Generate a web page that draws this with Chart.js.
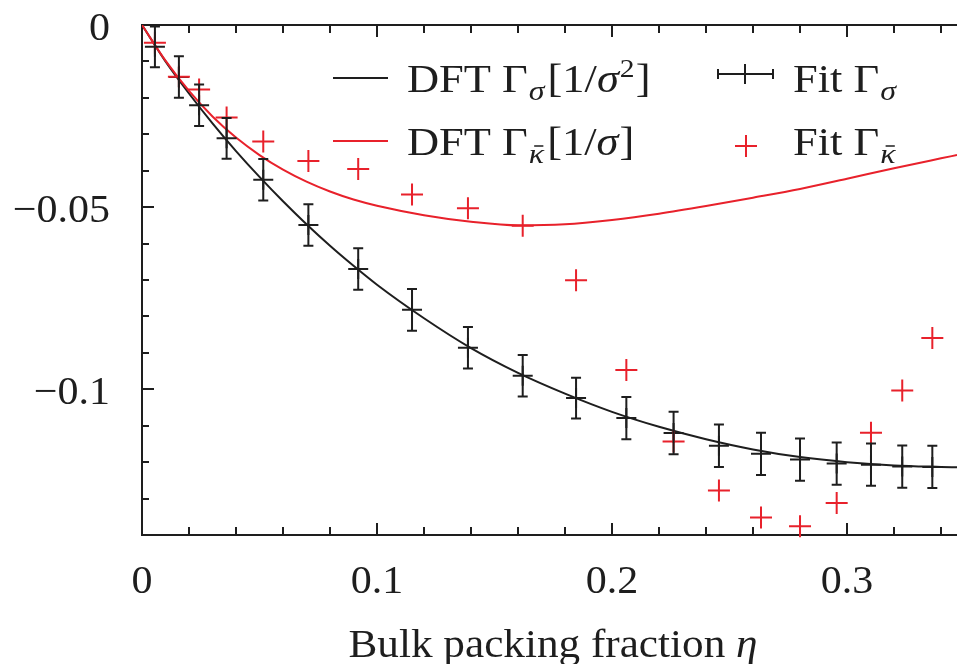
<!DOCTYPE html>
<html>
<head>
<meta charset="utf-8">
<script src="https://cdn.jsdelivr.net/npm/chart.js@4.4.1/dist/chart.umd.min.js"></script>
<style>
  html, body { margin: 0; padding: 0; background: #fff; }
  canvas { display: block; }
</style>
</head>
<body>
<canvas id="gammaChart" width="957" height="664"></canvas>
<script>
// DFT curves, sampled along the packing fraction
const dftEta = [0, 0.01, 0.02, 0.03, 0.04, 0.05, 0.06, 0.07, 0.08, 0.09, 0.10, 0.12, 0.14, 0.16,
    0.18, 0.20, 0.22, 0.24, 0.26, 0.28, 0.30, 0.32, 0.34, 0.3468];
const dftSigma = [0, -0.0100, -0.0188, -0.0270, -0.0346, -0.0417, -0.0484, -0.0547, -0.0606, -0.0661,
    -0.0713, -0.0805, -0.0887, -0.0955, -0.1012, -0.1062, -0.1103, -0.1137, -0.1165, -0.1186,
    -0.1200, -0.1209, -0.1213, -0.1214];
const dftKappa = [0, -0.0098, -0.0181, -0.0251, -0.0309, -0.0357, -0.0397, -0.0430, -0.0457, -0.0479,
    -0.0496, -0.0522, -0.0540, -0.0550, -0.0547, -0.0535, -0.0518, -0.0497, -0.0474, -0.0450,
    -0.0422, -0.0393, -0.0366, -0.0357];

// fitted values from the simulations
const fitEta = [0.0055, 0.0157, 0.0243, 0.0360, 0.0516, 0.0708, 0.0920, 0.1149, 0.1387, 0.1620,
    0.1847, 0.2061, 0.2262, 0.2455, 0.2634, 0.2800, 0.2956, 0.3102, 0.3235, 0.3363];
const fitSigma = [-0.0060, -0.0143, -0.0220, -0.0311, -0.0425, -0.0549, -0.0670, -0.0782, -0.0886, -0.0963,
    -0.1024, -0.1079, -0.1120, -0.1155, -0.1177, -0.1193, -0.1204, -0.1207, -0.1212, -0.1213];
const fitSigmaErr = [0.0056, 0.0057, 0.0057, 0.0056, 0.0057, 0.0057, 0.0057, 0.0057, 0.0057, 0.0057,
    0.0056, 0.0058, 0.0058, 0.0058, 0.0058, 0.0058, 0.0058, 0.0058, 0.0058, 0.0058];
const fitKappa = [-0.0049, -0.0142, -0.0177, -0.0254, -0.0320, -0.0373, -0.0395, -0.0465, -0.0503, -0.0551,
    -0.0701, -0.0947, -0.1143, -0.1278, -0.1352, -0.1376, -0.1312, -0.1119, -0.1003, -0.0859];

// axis ticks
const xTickVals = [0, 0.1, 0.2, 0.3];
const xTickText = ['0', '0.1', '0.2', '0.3'];
const yTickVals = [0, -0.05, -0.1];
const yTickText = ['0', '\u22120.05', '\u22120.1'];

const INK = '#1e1e1e';
const RED = '#e8212b';
const SERIF = '"Liberation Serif", "Times New Roman", serif';

function toPoints(xs, ys) {
    return xs.map((x, i) => ({ x: x, y: ys[i] }));
}

// text pieces with their own font / offset, stretched a bit horizontally
function runsWidth(ctx, runs, sx) {
    let w = 0;
    runs.forEach(r => { ctx.font = r.font; w += ctx.measureText(r.text).width * sx + (r.kern || 0); });
    return w;
}

function drawRuns(ctx, x, y, runs, sx) {
    sx = sx || 1;
    runs.forEach(r => {
        ctx.font = r.font;
        const w = ctx.measureText(r.text).width;
        const yy = y + (r.dy || 0);
        ctx.save();
        ctx.translate(x, yy);
        ctx.scale(sx, 1);
        ctx.fillText(r.text, 0, 0);
        ctx.restore();
        if (r.bar) {
            // bar over the kappa
            ctx.save();
            ctx.strokeStyle = ctx.fillStyle;
            ctx.lineWidth = 1.5;
            ctx.beginPath();
            ctx.moveTo(x + w * sx * 0.35, yy - 17);
            ctx.lineTo(x + w * sx * 0.95, yy - 17);
            ctx.stroke();
            ctx.restore();
        }
        x += w * sx + (r.kern || 0);
    });
    return x;
}

const f = {
    main: '39px ' + SERIF,
    ital: 'italic 39px ' + SERIF,
    sub: 'italic 28px ' + SERIF,
    sup: '26px ' + SERIF,
};
const LEG_SX = 1.14;

const framePlugin = {
    id: 'frame',
    beforeDatasetsDraw(chart) {
        const ctx = chart.ctx;
        const { left, right, top, bottom } = chart.chartArea;
        const xs = chart.scales.x, ys = chart.scales.y;
        ctx.save();
        ctx.strokeStyle = INK;
        ctx.lineWidth = 2;
        ctx.beginPath();
        ctx.moveTo(right + 2, top); ctx.lineTo(left, top);
        ctx.lineTo(left, bottom); ctx.lineTo(right + 2, bottom);
        ctx.stroke();

        // inward ticks, minor every 0.02 / 0.01
        ctx.beginPath();
        for (let k = 1; k <= 17; k++) {
            const px = Math.round(xs.getPixelForValue(k * 0.02));
            const len = k % 5 === 0 ? 12 : 8;
            ctx.moveTo(px, bottom); ctx.lineTo(px, bottom - len);
            ctx.moveTo(px, top); ctx.lineTo(px, top + len);
        }
        for (let k = 1; k < 14; k++) {
            const py = Math.round(ys.getPixelForValue(-k * 0.01));
            const len = k % 5 === 0 ? 12 : 7;
            ctx.moveTo(left, py); ctx.lineTo(left + len, py);
        }
        ctx.stroke();

        // tick labels and axis title
        ctx.fillStyle = INK;
        ctx.textBaseline = 'alphabetic';
        ctx.textAlign = 'left';
        const tickFont = '40px ' + SERIF;
        yTickVals.forEach((v, i) => {
            const run = [{ text: yTickText[i], font: tickFont }];
            drawRuns(ctx, 110 - runsWidth(ctx, run, 1.05), ys.getPixelForValue(v) + 15, run, 1.05);
        });
        xTickVals.forEach((v, i) => {
            const run = [{ text: xTickText[i], font: tickFont }];
            drawRuns(ctx, xs.getPixelForValue(v) - runsWidth(ctx, run, 1.05) / 2, 593, run, 1.05);
        });
        const title = [
            { text: 'Bulk packing fraction ', font: '40px ' + SERIF },
            { text: '\u03b7', font: 'italic 40px ' + SERIF },
        ];
        drawRuns(ctx, 553 - runsWidth(ctx, title, 1.08) / 2, 657, title, 1.08);
        ctx.restore();
    },
    afterDatasetsDraw(chart) {
        // error bars for the surface tension fit
        const ctx = chart.ctx;
        const xs = chart.scales.x, ys = chart.scales.y;
        ctx.save();
        ctx.strokeStyle = INK;
        ctx.lineWidth = 2;
        ctx.beginPath();
        fitEta.forEach((eta, i) => {
            const px = xs.getPixelForValue(eta);
            const y1 = ys.getPixelForValue(fitSigma[i] + fitSigmaErr[i]);
            const y2 = ys.getPixelForValue(fitSigma[i] - fitSigmaErr[i]);
            ctx.moveTo(px, y1); ctx.lineTo(px, y2);
            ctx.moveTo(px - 5, y1); ctx.lineTo(px + 5, y1);
            ctx.moveTo(px - 5, y2); ctx.lineTo(px + 5, y2);
        });
        ctx.stroke();
        ctx.restore();
    },
    afterDraw(chart) {
        // key in gnuplot style
        const ctx = chart.ctx;
        ctx.save();
        ctx.lineWidth = 2;
        ctx.strokeStyle = INK;
        ctx.beginPath(); ctx.moveTo(333, 78); ctx.lineTo(388, 78); ctx.stroke();
        ctx.strokeStyle = RED;
        ctx.beginPath(); ctx.moveTo(333, 141); ctx.lineTo(388, 141); ctx.stroke();

        ctx.strokeStyle = INK;
        ctx.beginPath();
        ctx.moveTo(718, 74); ctx.lineTo(773, 74);
        ctx.moveTo(718, 69); ctx.lineTo(718, 79);
        ctx.moveTo(773, 69); ctx.lineTo(773, 79);
        ctx.moveTo(745, 64); ctx.lineTo(745, 84);
        ctx.stroke();
        ctx.strokeStyle = RED;
        ctx.beginPath();
        ctx.moveTo(735, 146); ctx.lineTo(757, 146);
        ctx.moveTo(746, 135); ctx.lineTo(746, 157);
        ctx.stroke();

        ctx.fillStyle = INK;
        ctx.textAlign = 'left';
        ctx.textBaseline = 'alphabetic';
        drawRuns(ctx, 407, 92, [
            { text: 'DFT \u0393', font: f.main, kern: 1 },
            { text: '\u03c3', font: f.sub, dy: 8, kern: 3 },
            { text: '[1/', font: f.main },
            { text: '\u03c3', font: f.ital, kern: 1 },
            { text: '2', font: f.sup, dy: -15, kern: 1 },
            { text: ']', font: f.main },
        ], LEG_SX);
        drawRuns(ctx, 407, 155, [
            { text: 'DFT \u0393', font: f.main, kern: 1 },
            { text: '\u03ba', font: f.sub, dy: 8, kern: 3, bar: true },
            { text: '[1/', font: f.main },
            { text: '\u03c3', font: f.ital, kern: 1 },
            { text: ']', font: f.main },
        ], LEG_SX);
        drawRuns(ctx, 793, 92, [
            { text: 'Fit \u0393', font: f.main, kern: 1 },
            { text: '\u03c3', font: f.sub, dy: 8 },
        ], LEG_SX);
        drawRuns(ctx, 793, 155, [
            { text: 'Fit \u0393', font: f.main, kern: 1 },
            { text: '\u03ba', font: f.sub, dy: 8, bar: true },
        ], LEG_SX);
        ctx.restore();
    }
};

new Chart(document.getElementById('gammaChart').getContext('2d'), {
    type: 'scatter',
    data: {
        datasets: [
            {
                label: 'Fit Gamma kappa',
                data: toPoints(fitEta, fitKappa),
                pointStyle: 'cross',
                pointRadius: 11,
                borderColor: RED,
                borderWidth: 2,
                clip: false,
            },
            {
                label: 'Fit Gamma sigma',
                data: toPoints(fitEta, fitSigma),
                pointStyle: 'cross',
                pointRadius: 10,
                borderColor: INK,
                borderWidth: 2,
                clip: false,
            },
            {
                label: 'DFT Gamma kappa',
                data: toPoints(dftEta, dftKappa),
                showLine: true,
                pointRadius: 0,
                borderColor: RED,
                borderWidth: 2,
                cubicInterpolationMode: 'monotone',
            },
            {
                label: 'DFT Gamma sigma',
                data: toPoints(dftEta, dftSigma),
                showLine: true,
                pointRadius: 0,
                borderColor: INK,
                borderWidth: 2,
                cubicInterpolationMode: 'monotone',
            },
        ],
    },
    options: {
        responsive: false,
        animation: false,
        devicePixelRatio: 1,
        layout: { autoPadding: false, padding: { left: 142, top: 25, right: 0, bottom: 129 } },
        plugins: { legend: { display: false }, tooltip: { enabled: false } },
        scales: {
            x: { type: 'linear', display: false, min: 0, max: 0.3468 },
            y: { type: 'linear', display: false, min: -0.14, max: 0 },
        },
    },
    plugins: [framePlugin],
});
</script>
</body>
</html>
